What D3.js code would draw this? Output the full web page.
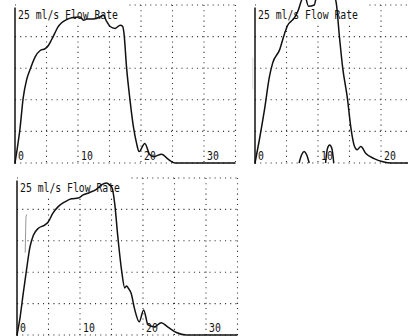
<!DOCTYPE html>
<html>
<head>
<meta charset="utf-8">
<script src="https://cdn.jsdelivr.net/npm/d3@7"></script>
<style>
  html, body { margin: 0; padding: 0; background: #fff; }
  svg { display: block; }
  .grid line { stroke: #333; stroke-width: 1.1; stroke-dasharray: 1.1 4.1; }
  .trace { fill: none; stroke: #111; stroke-width: 1.5; stroke-linejoin: round; }
  text { font-family: "DejaVu Sans Mono", "Liberation Mono", monospace; font-size: 12px; fill: #111; }
</style>
</head>
<body>
<svg id="chart"></svg>
<script>
const titleText = "25 ml/s Flow Rate";
const timeTicks = [0, 10, 20, 30];
const timeTicksB = [0, 10, 20];
const gridTimes = [5, 10, 15, 20, 25, 30, 35];
const gridFlows = [0, 5, 10, 15, 20, 25];

// voiding 1 (top left)
const timeA = [0, 0.25, 0.8, 1.3, 1.85, 2.4, 3.2, 4.0, 4.8, 5.3, 5.8, 6.3, 6.8, 7.4, 8.2, 9.0, 10.3, 10.9, 11.4, 12.4, 13.5, 14.0,
  14.55, 15.1, 15.9, 16.7, 17.1, 17.3, 17.7, 18.25, 18.8, 19.3, 19.7, 20.6, 21.4, 22.0, 23.3, 24.3, 25.4, 35];
const flowA = [0, 1.6, 5.5, 10.3, 13.2, 14.8, 16.8, 17.8, 18.1, 18.6, 19.5, 20.5, 21.5, 22.2, 22.7, 23.0, 23.1, 22.6, 22.8, 22.8, 23.1, 23.4,
  22.4, 21.6, 21.3, 21.8, 21.6, 20.5, 15.2, 10, 5.7, 3.1, 1.8, 3.1, 1.3, 1.0, 1.4, 0.6, 0, 0];

// voiding 2 (top right), peak runs off the top of the paper
const timeB = [0, 0.68, 1.5, 2.3, 2.8, 3.9, 4.7, 5.2, 5.7, 6.2, 6.8, 7.3, 7.8, 8.5, 9.4, 9.9, 12.4, 12.9, 13.4, 13.9, 14.7, 15.2,
  15.8, 16.2, 16.8, 17.6, 18.9, 20.3, 21.6, 25];
const flowB = [0, 3.6, 8.4, 13.7, 15.8, 17.9, 20.5, 21.8, 22.4, 22.9, 24, 25.5, 26.8, 24.8, 25.0, 26.8, 26.8, 25.3, 20, 15.2, 10, 5.7,
  2.6, 2.1, 2.6, 1.5, 0.7, 0.2, 0, 0];
const bumpTime1 = [7.0, 7.4, 7.8, 8.2, 8.6];
const bumpFlow1 = [0, 1.3, 1.8, 1.3, 0];
const bumpTime2 = [11.2, 11.5, 11.85, 12.2, 12.5];
const bumpFlow2 = [0, 2.3, 2.85, 2.3, 0];
const penTimeB = [-0.35, -0.35];
const penFlowB = [16.7, 11.7];

// voiding 3 (bottom left)
const timeC = [0, 0.5, 1.0, 1.5, 2.05, 2.6, 3.4, 4.4, 4.95, 5.7, 6.5, 7.6, 8.65, 9.7, 10.5, 11.55, 12.6, 13.4, 14.2, 14.7, 15.1,
  15.5, 16.0, 16.6, 17.1, 17.4, 17.7, 18.1, 18.7, 19.4, 20.1, 20.8, 21.8, 22.9, 23.9, 25.3, 26.9, 35];
const flowC = [0, 2.9, 6.7, 10.3, 14, 15.9, 17, 17.5, 18, 19.4, 20.4, 21.2, 21.7, 21.8, 22.3, 22.7, 23.2, 23.9, 24.2, 23.9, 23.4,
  21, 15.7, 10.3, 7.5, 7.8, 7.4, 6.7, 4, 2.1, 4, 1.6, 1.3, 1.95, 1.3, 0.4, 0, 0];
const penTimeC = [1.55, 1.42, 1.3];
const penFlowC = [19.2, 18.8, 13.1];

const W = 408, H = 336;
const svg = d3.select("#chart").attr("width", W).attr("height", H);
svg.append("rect").attr("width", W).attr("height", H).attr("fill", "#fff");

function zip(ts, fs) {
  return ts.map(function (t, i) { return {t: t, f: fs[i]}; });
}

function drawPanel(p) {
  const x = d3.scaleLinear().domain([0, 35]).range([p.left, p.left + 220.5]);
  const y = d3.scaleLinear().domain([0, 25]).range([p.bottom, p.top]);
  const g = svg.append("g");

  const grid = g.append("g").attr("class", "grid");
  grid.selectAll(".h").data(gridFlows).enter().append("line")
    .attr("x1", x(0)).attr("x2", x(35))
    .attr("y1", d => y(d)).attr("y2", d => y(d));
  grid.selectAll(".v").data(gridTimes).enter().append("line")
    .attr("x1", d => x(d)).attr("x2", d => x(d))
    .attr("y1", y(25)).attr("y2", y(0));

  // paper strip behind the heading
  g.append("rect")
    .attr("x", x(0) + 1).attr("y", y(25) - 5)
    .attr("width", 111).attr("height", 22)
    .attr("fill", "#fff");

  g.append("line")
    .attr("x1", x(0)).attr("x2", x(0))
    .attr("y1", y(24.6)).attr("y2", y(0) + 1)
    .attr("stroke", "#111").attr("stroke-width", 1.5);

  g.append("text")
    .attr("x", x(0) + 3).attr("y", y(25) + 13.5)
    .attr("textLength", 100).attr("lengthAdjust", "spacingAndGlyphs")
    .text(titleText);

  g.selectAll(".tick").data(p.ticks).enter().append("text")
    .attr("x", d => x(d) + 3).attr("y", y(0) - 3)
    .attr("textLength", d => String(d).length * 5.9).attr("lengthAdjust", "spacingAndGlyphs")
    .text(d => d);

  const line = d3.line()
    .x(d => x(d.t))
    .y(d => y(d.f))
    .curve(d3.curveMonotoneX);

  p.pens.forEach(function (pen) {
    g.append("path").datum(zip(pen.t, pen.f))
      .attr("fill", "none").attr("stroke", pen.color).attr("stroke-width", 1)
      .attr("d", d3.line().x(d => x(d.t)).y(d => y(d.f)));
  });

  p.traces.forEach(function (tr) {
    g.append("path").datum(zip(tr.t, tr.f))
      .attr("class", "trace")
      .attr("d", line);
  });
}

drawPanel({left: 15, top: 5, bottom: 163, ticks: timeTicks,
  traces: [{t: timeA, f: flowA}], pens: []});
drawPanel({left: 255, top: 5, bottom: 163, ticks: timeTicksB,
  traces: [{t: timeB, f: flowB}, {t: bumpTime1, f: bumpFlow1}, {t: bumpTime2, f: bumpFlow2}],
  pens: [{t: penTimeB, f: penFlowB, color: "#d8d8d8"}]});
drawPanel({left: 17, top: 178, bottom: 335, ticks: timeTicks,
  traces: [{t: timeC, f: flowC}],
  pens: [{t: penTimeC, f: penFlowC, color: "#999"}]});
</script>
</body>
</html>
